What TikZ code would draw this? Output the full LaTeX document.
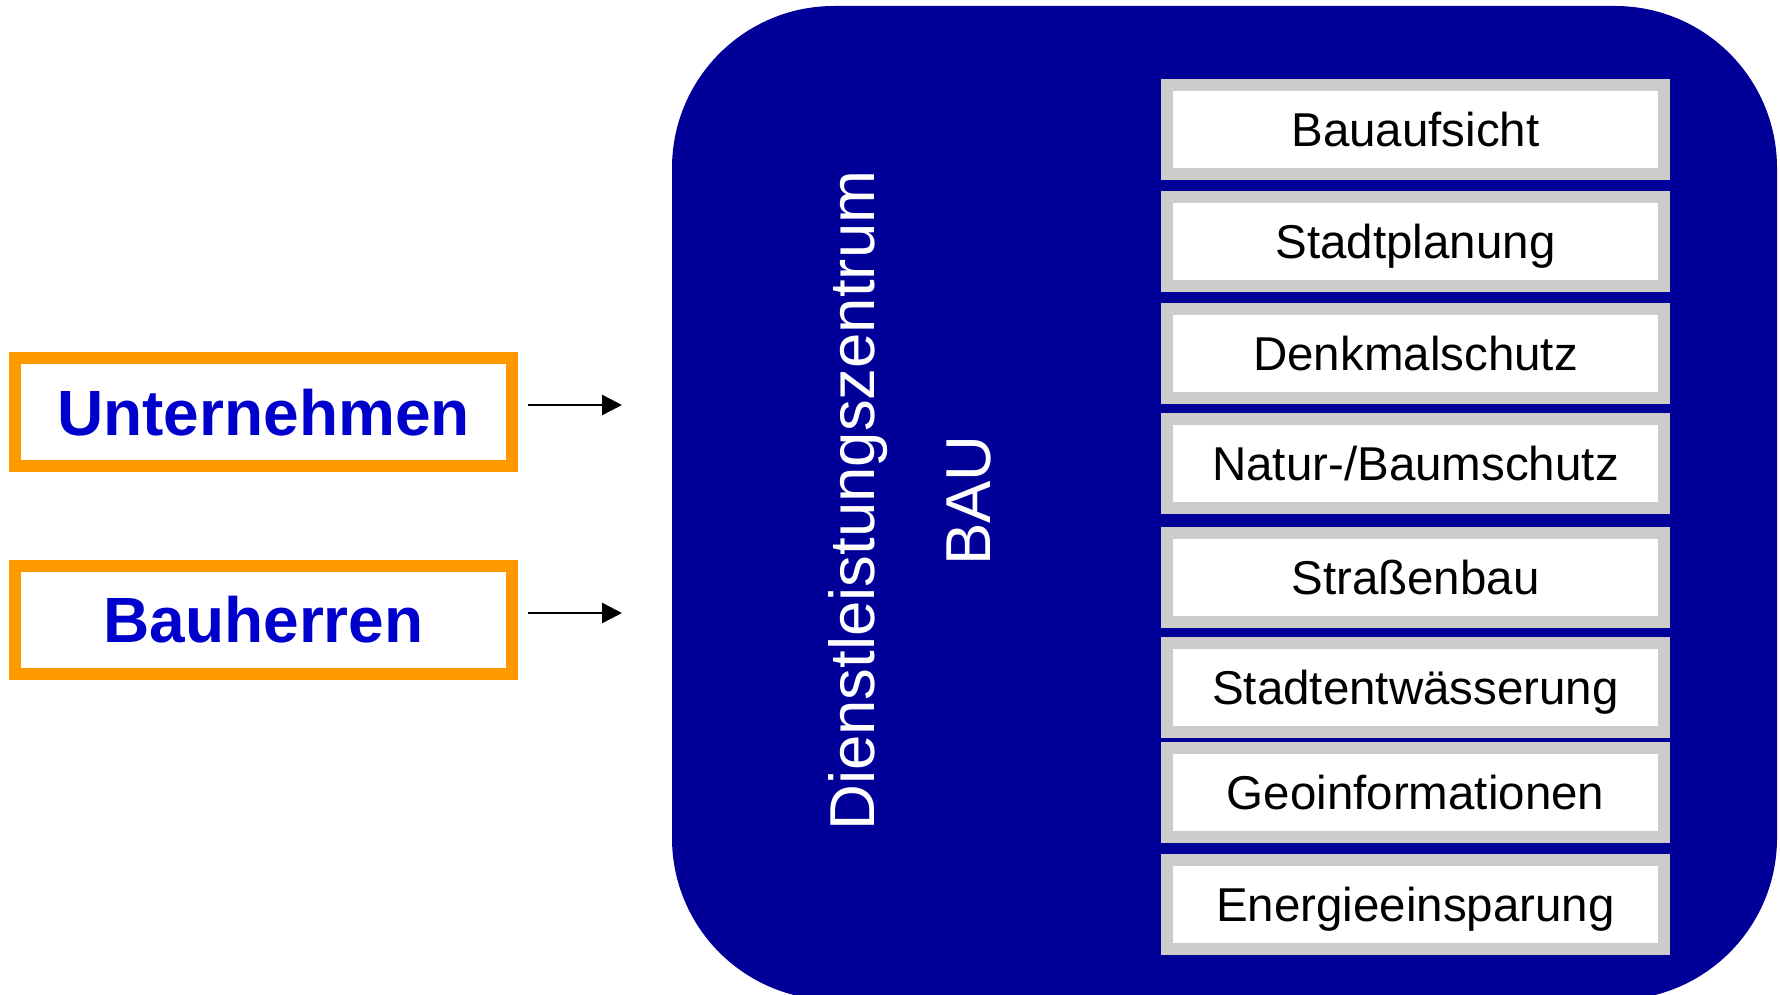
\documentclass[tikz,border=0pt]{standalone}
\usepackage{fontspec}
\setmainfont{Liberation Sans}
\usetikzlibrary{arrows.meta}
\definecolor{dblue}{HTML}{000099}
\definecolor{tblue}{HTML}{0000CC}
\definecolor{orng}{HTML}{FF9900}
\definecolor{lgray}{HTML}{CCCCCC}
\tikzset{
  gbox/.style={draw=lgray, line width=12pt, fill=white, minimum width=497pt, minimum height=89pt,
    inner sep=0pt, text height=34pt, text depth=0pt, font=\fontsize{47.5}{55}\selectfont},
  obox/.style={draw=orng, line width=12pt, fill=white, minimum width=497pt, minimum height=108pt,
    inner sep=0pt, text height=46pt, text depth=0pt, text=tblue, font=\fontsize{64}{72}\selectfont\bfseries},
  vtext/.style={rotate=90, anchor=base, text=white, inner sep=0pt, font=\fontsize{63.5}{70}\selectfont},
  arr/.style={line width=2.5pt, -{Triangle[length=20pt,width=20pt]}}
}
\begin{document}
\begin{tikzpicture}[x=1pt,y=-1pt]
\useasboundingbox (0,0) rectangle (1780,995);
\fill[dblue, rounded corners=162pt] (672,6) rectangle (1777,1000);
\node[vtext] (dl) at (874,500.6) {Dienstleistungszentrum};
\node[vtext] (bau) at (990,500.6) {BAU};
\node[gbox] (b1) at (1415.5,129.5) {Bauaufsicht};
\node[gbox] (b2) at (1415.5,241.7) {Stadtplanung};
\node[gbox] (b3) at (1415.5,353.6) {Denkmalschutz};
\node[gbox] (b4) at (1415.5,463.1) {Natur-/Baumschutz};
\node[gbox] (b5) at (1415.5,577.2) {Straßenbau};
\node[gbox] (b6) at (1415.5,687.4) {Stadtentwässerung};
\node[gbox] (b7) at (1415.5,792.3) {Geoinformationen};
\node[gbox] (b8) at (1415.5,904.7) {Energieeinsparung};
\node[obox] (u) at (263.5,412) {Unternehmen};
\node[obox] (bh) at (263.5,619.5) {Bauherren};
\coordinate (us) at (528,405);
\coordinate (ue) at (622,405);
\coordinate (bs) at (528,613);
\coordinate (be) at (622,613);
\draw[arr] (us) -- (ue);
\draw[arr] (bs) -- (be);
\end{tikzpicture}
\end{document}
